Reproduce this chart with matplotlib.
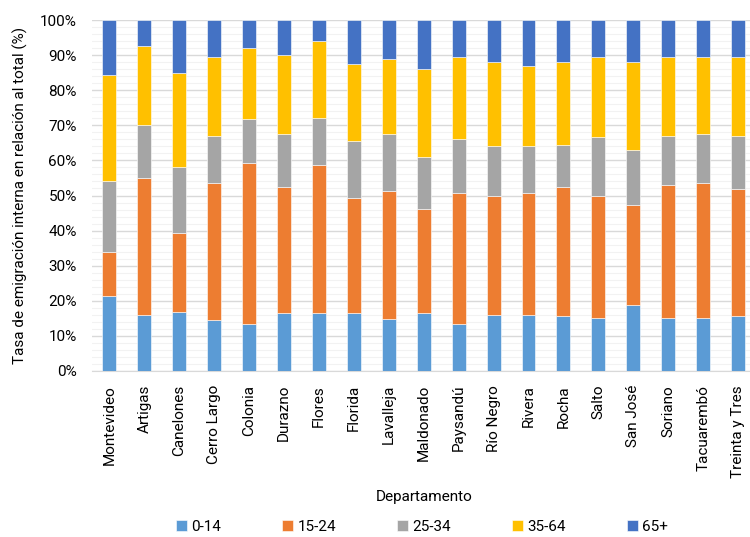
import matplotlib
matplotlib.use("Agg")
import matplotlib.pyplot as plt
import numpy as np
from matplotlib.ticker import MultipleLocator, FuncFormatter

departamentos = ["Montevideo", "Artigas", "Canelones", "Cerro Largo", "Colonia", "Durazno",
                 "Flores", "Florida", "Lavalleja", "Maldonado", "Paysandú", "Río Negro",
                 "Rivera", "Rocha", "Salto", "San José", "Soriano", "Tacuarembó", "Treinta y Tres"]

g_0_14  = [21.4, 16.0, 16.9, 14.4, 13.5, 16.5, 16.5, 16.5, 14.9, 16.5, 13.5, 16.0, 16.0, 15.6, 15.0, 18.7, 15.0, 15.0, 15.6]
g_15_24 = [12.5, 39.1, 22.5, 39.1, 45.7, 36.0, 42.2, 32.9, 36.5, 29.7, 37.3, 33.9, 34.8, 36.9, 34.9, 28.5, 38.0, 38.5, 36.3]
g_25_34 = [20.2, 15.1, 18.8, 13.5, 12.5, 15.1, 13.5, 16.0, 16.2, 14.7, 15.2, 14.1, 13.2, 12.0, 16.7, 15.7, 14.0, 14.1, 15.1]
g_35_64 = [30.2, 22.5, 26.7, 22.5, 20.4, 22.4, 21.9, 22.1, 21.4, 25.0, 23.5, 23.9, 22.9, 23.4, 22.9, 25.0, 22.5, 21.9, 22.5]
g_65    = [15.7, 7.3, 15.1, 10.5, 7.9, 10.0, 5.9, 12.5, 11.0, 14.1, 10.5, 12.1, 13.1, 12.1, 10.5, 12.1, 10.5, 10.5, 10.5]

series_labels = ["0-14", "15-24", "25-34", "35-64", "65+"]
colors = ["#5B9BD5", "#ED7D31", "#A5A5A5", "#FFC000", "#4472C4"]

plt.rcParams['font.family'] = ['Roboto', 'DejaVu Sans']
FS = 11

fig = plt.figure(figsize=(7.5, 5.37), dpi=100)
ax = fig.add_axes([92/750, 1-371/537, (755.5-92)/750, (371-20)/537])

x = np.arange(len(departamentos))
data = [g_0_14, g_15_24, g_25_34, g_35_64, g_65]
bottom = np.zeros(len(departamentos))
for vals, lab, c in zip(data, series_labels, colors):
    v = np.array(vals)
    ax.bar(x, v, 0.4, bottom=bottom, color=c, label=lab, edgecolor='white', linewidth=0.4, zorder=3)
    bottom += v

ax.set_xlim(-0.5, len(departamentos) - 0.5)
ax.set_ylim(0, 100)
ax.yaxis.set_major_locator(MultipleLocator(10))
ax.yaxis.set_minor_locator(MultipleLocator(2))
ax.yaxis.set_major_formatter(FuncFormatter(lambda v, p: f"{int(v)}%"))
ax.grid(axis='y', which='major', color='#D9D9D9', linewidth=1.0, zorder=0)
ax.grid(axis='y', which='minor', color='#F2F2F2', linewidth=0.8, zorder=0)
ax.set_axisbelow(True)
for s in ['top', 'right', 'left']:
    ax.spines[s].set_visible(False)
ax.spines['bottom'].set_color('#D9D9D9')
ax.tick_params(axis='both', which='both', length=0, labelsize=FS, colors='black')
ax.tick_params(axis='y', pad=11)
ax.tick_params(axis='x', pad=10)
ax.set_xticks(x)
ax.set_xticklabels(departamentos, rotation=90, fontsize=FS)

ax.set_ylabel("Tasa de emigración interna en relación al total (%)", fontsize=FS)
ax.yaxis.set_label_coords(-0.097, 0.5)
fig.text(424/750, 1-497/537, "Departamento", ha='center', va='center', fontsize=FS)

leg = fig.legend(loc='center', bbox_to_anchor=(422/750, 1-527/537), ncol=5, frameon=False,
                 fontsize=FS, handlelength=0.7, handleheight=0.7, handletextpad=0.3,
                 columnspacing=4.0)

fig.savefig("out.png", dpi=100)
